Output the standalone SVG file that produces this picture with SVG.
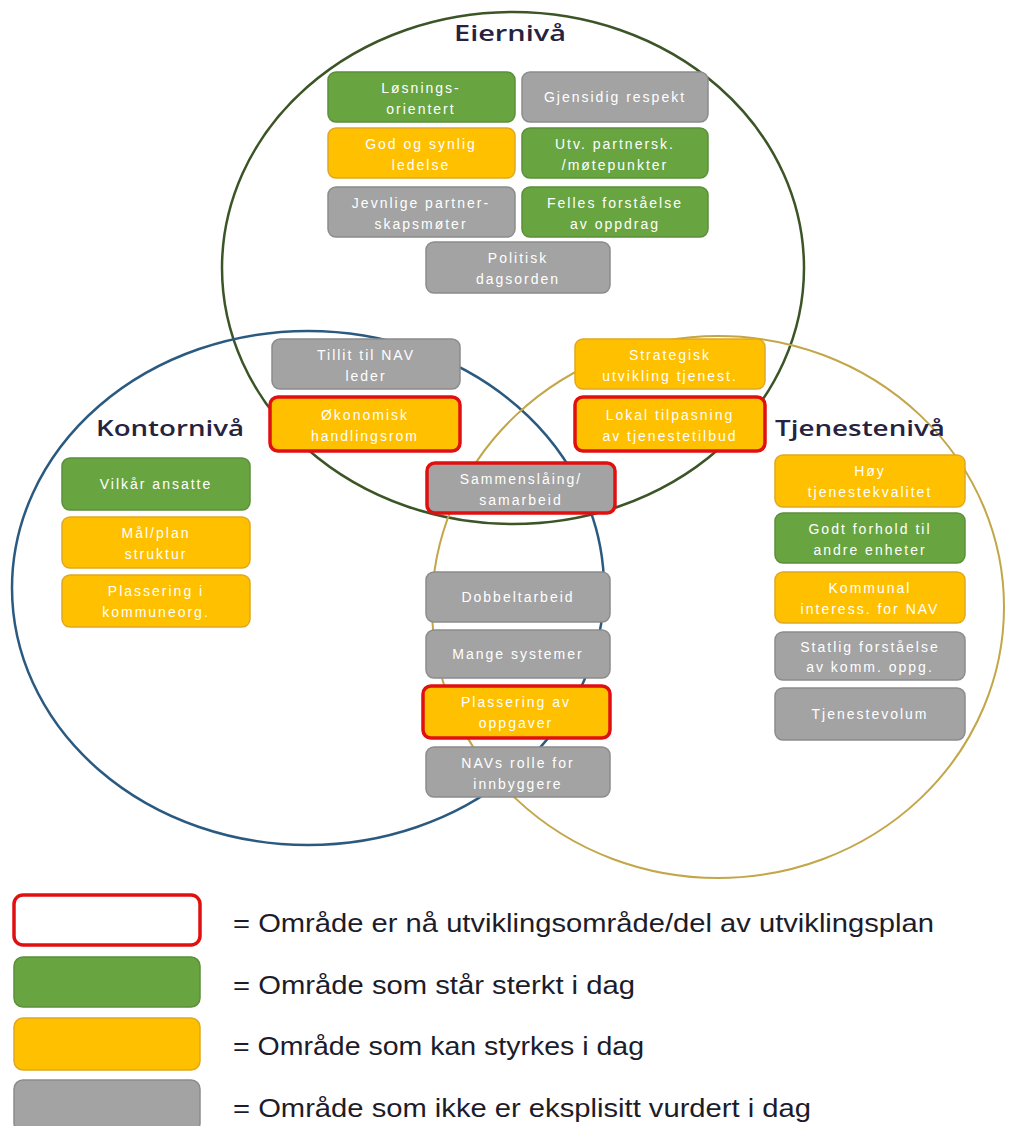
<svg xmlns="http://www.w3.org/2000/svg" width="1010" height="1126" viewBox="0 0 1010 1126">
<style>
.bg{fill:#ffffff}
.circ{fill:none;stroke-width:2.5}
.c1{stroke:#3b5527}
.c2{stroke:#2b5a80}
.c3{stroke:#c2a648;stroke-width:2}
.box{stroke-width:1.5}
.g{fill:#68a541;stroke:#5b8f3a}
.o{fill:#ffc000;stroke:#e0a820}
.y{fill:#a3a3a3;stroke:#8c8c8c}
.w{fill:#ffffff}
.r{stroke:#e01010;stroke-width:3.5}
.t{font-family:"Liberation Sans",Arial,sans-serif;font-size:14px;fill:#ffffff;text-anchor:middle;letter-spacing:2px}
.h{font-family:"Open Sans","Liberation Sans",sans-serif;font-size:22px;font-weight:600;fill:#26223f}
.l{font-family:"Liberation Sans",Arial,sans-serif;font-size:25px;fill:#1c1c2a}
</style>
<rect class="bg" x="0" y="0" width="1010" height="1126"/>
<g id="circles">
<ellipse id="eiernivaa" class="circ c1" cx="513" cy="268" rx="291" ry="256"/>
<ellipse id="kontorniva" class="circ c2" cx="308" cy="588" rx="296" ry="257"/>
<ellipse id="tjenesteniva" class="circ c3" cx="718" cy="607" rx="286" ry="271"/>
</g>
<g id="labels">
<text class="h" x="454" y="41" textLength="112" lengthAdjust="spacingAndGlyphs">Eiernivå</text>
<text class="h" x="96" y="436" textLength="148" lengthAdjust="spacingAndGlyphs">Kontornivå</text>
<text class="h" x="775" y="436" textLength="170" lengthAdjust="spacingAndGlyphs">Tjenestenivå</text>
</g>
<g id="connectors"></g>
<g id="n1"><rect class="box g" x="328" y="72" width="187" height="50" rx="8"/><text class="t" x="421" y="93">Løsnings-</text><text class="t" x="421" y="114">orientert</text></g>
<g id="n2"><rect class="box y" x="522" y="72" width="186" height="50" rx="8"/><text class="t" x="615" y="102">Gjensidig respekt</text></g>
<g id="n3"><rect class="box o" x="328" y="128" width="187" height="50" rx="8"/><text class="t" x="421" y="149">God og synlig</text><text class="t" x="421" y="170">ledelse</text></g>
<g id="n4"><rect class="box g" x="522" y="128" width="186" height="50" rx="8"/><text class="t" x="615" y="149">Utv. partnersk.</text><text class="t" x="615" y="170">/møtepunkter</text></g>
<g id="n5"><rect class="box y" x="328" y="187" width="187" height="50" rx="8"/><text class="t" x="421" y="208">Jevnlige partner-</text><text class="t" x="421" y="229">skapsmøter</text></g>
<g id="n6"><rect class="box g" x="522" y="187" width="186" height="50" rx="8"/><text class="t" x="615" y="208">Felles forståelse</text><text class="t" x="615" y="229">av oppdrag</text></g>
<g id="n7"><rect class="box y" x="426" y="242" width="184" height="51" rx="8"/><text class="t" x="518" y="263">Politisk</text><text class="t" x="518" y="284">dagsorden</text></g>
<g id="n8"><rect class="box y" x="272" y="339" width="188" height="50" rx="8"/><text class="t" x="366" y="360">Tillit til NAV</text><text class="t" x="366" y="381">leder</text></g>
<g id="n9"><rect class="box o r" x="270" y="397" width="190" height="54" rx="8"/><text class="t" x="365" y="420">Økonomisk</text><text class="t" x="365" y="441">handlingsrom</text></g>
<g id="n10"><rect class="box o" x="575" y="339" width="190" height="50" rx="8"/><text class="t" x="670" y="360">Strategisk</text><text class="t" x="670" y="381">utvikling tjenest.</text></g>
<g id="n11"><rect class="box o r" x="575" y="397" width="190" height="54" rx="8"/><text class="t" x="670" y="420">Lokal tilpasning</text><text class="t" x="670" y="441">av tjenestetilbud</text></g>
<g id="n12"><rect class="box y r" x="427" y="463" width="188" height="50" rx="8"/><text class="t" x="521" y="484">Sammenslåing/</text><text class="t" x="521" y="505">samarbeid</text></g>
<g id="n13"><rect class="box g" x="62" y="458" width="188" height="52" rx="8"/><text class="t" x="156" y="489">Vilkår ansatte</text></g>
<g id="n14"><rect class="box o" x="62" y="517" width="188" height="51" rx="8"/><text class="t" x="156" y="538">Mål/plan</text><text class="t" x="156" y="559">struktur</text></g>
<g id="n15"><rect class="box o" x="62" y="575" width="188" height="52" rx="8"/><text class="t" x="156" y="596">Plassering i</text><text class="t" x="156" y="617">kommuneorg.</text></g>
<g id="n16"><rect class="box o" x="775" y="455" width="190" height="52" rx="8"/><text class="t" x="870" y="476">Høy</text><text class="t" x="870" y="497">tjenestekvalitet</text></g>
<g id="n17"><rect class="box g" x="775" y="513" width="190" height="50" rx="8"/><text class="t" x="870" y="534">Godt forhold til</text><text class="t" x="870" y="555">andre enheter</text></g>
<g id="n18"><rect class="box o" x="775" y="572" width="190" height="51" rx="8"/><text class="t" x="870" y="593">Kommunal</text><text class="t" x="870" y="614">interess. for NAV</text></g>
<g id="n19"><rect class="box y" x="775" y="632" width="190" height="48" rx="8"/><text class="t" x="870" y="652">Statlig forståelse</text><text class="t" x="870" y="672">av komm. oppg.</text></g>
<g id="n20"><rect class="box y" x="775" y="688" width="190" height="52" rx="8"/><text class="t" x="870" y="719">Tjenestevolum</text></g>
<g id="n21"><rect class="box y" x="426" y="572" width="184" height="50" rx="8"/><text class="t" x="518" y="602">Dobbeltarbeid</text></g>
<g id="n22"><rect class="box y" x="426" y="630" width="184" height="48" rx="8"/><text class="t" x="518" y="659">Mange systemer</text></g>
<g id="n23"><rect class="box o r" x="423" y="686" width="187" height="52" rx="8"/><text class="t" x="516" y="707">Plassering av</text><text class="t" x="516" y="728">oppgaver</text></g>
<g id="n24"><rect class="box y" x="426" y="747" width="184" height="50" rx="8"/><text class="t" x="518" y="768">NAVs rolle for</text><text class="t" x="518" y="789">innbyggere</text></g>
<g id="legend">
<rect class="box w r" x="14" y="895" width="186" height="50" rx="9"/>
<rect class="box g" x="14" y="957" width="186" height="50" rx="9"/>
<rect class="box o" x="14" y="1018" width="186" height="52" rx="9"/>
<rect class="box y" x="14" y="1080" width="186" height="52" rx="9"/>
<text class="l" x="233" y="932" textLength="701" lengthAdjust="spacingAndGlyphs">= Område er nå utviklingsområde/del av utviklingsplan</text>
<text class="l" x="233" y="994" textLength="402" lengthAdjust="spacingAndGlyphs">= Område som står sterkt i dag</text>
<text class="l" x="233" y="1055" textLength="411" lengthAdjust="spacingAndGlyphs">= Område som kan styrkes i dag</text>
<text class="l" x="233" y="1117" textLength="578" lengthAdjust="spacingAndGlyphs">= Område som ikke er eksplisitt vurdert i dag</text>
</g>
</svg>
